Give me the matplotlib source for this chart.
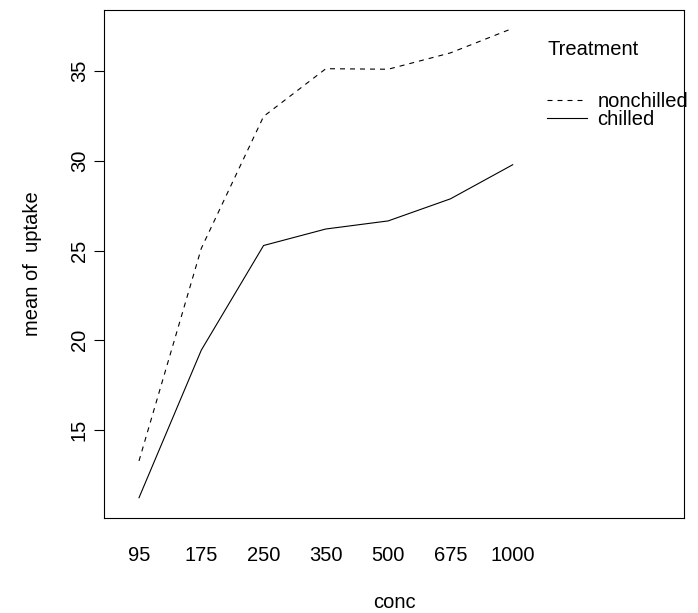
import matplotlib
matplotlib.use("Agg")
import matplotlib.pyplot as plt

# mean CO2 uptake by concentration and treatment
conc_labels = ["95", "175", "250", "350", "500", "675", "1000"]
nonchilled = [13.28, 25.12, 32.47, 35.13, 35.10, 36.01, 37.38]
chilled = [11.23, 19.45, 25.28, 26.20, 26.65, 27.88, 29.78]

plt.rcParams["font.family"] = ["Liberation Sans", "DejaVu Sans"]
fs = 14.5

fig = plt.figure(figsize=(6.98, 6.13), dpi=100)
ax = fig.add_axes([104 / 698, 1 - 518 / 613, 580 / 698, 508 / 613])

xs = list(range(1, len(conc_labels) + 1))
l1, = ax.plot(xs, nonchilled, color="black", lw=0.8, dashes=(4.5, 4.5), label="nonchilled")
l2, = ax.plot(xs, chilled, color="black", lw=0.8, label="chilled")

ax.set_xlim(0.438, 9.75)
ax.set_ylim(10.10, 38.40)

ax.set_xticks(xs)
ax.set_xticklabels(conc_labels, fontsize=fs)
ax.tick_params(axis="x", length=0, pad=20)
ax.set_yticks([15, 20, 25, 30, 35])
ax.set_yticklabels(["15", "20", "25", "30", "35"], fontsize=fs, rotation=90, va="center")
ax.tick_params(axis="y", length=7, width=0.8, pad=4)

for s in ax.spines.values():
    s.set_linewidth(0.8)

ax.set_xlabel("conc", fontsize=fs, labelpad=20)
ax.set_ylabel("mean of  uptake", fontsize=fs, labelpad=20)

leg = ax.legend(handles=[l1, l2], title="Treatment", loc="upper left",
                bbox_to_anchor=(539 / 698, 1 - 32 / 613), bbox_transform=fig.transFigure,
                frameon=False, fontsize=fs, title_fontsize=fs, handlelength=2.0,
                handletextpad=0.5, labelspacing=-0.05, alignment="left", borderaxespad=0)
leg._legend_box.sep = 24

fig.savefig("out.png", dpi=100)
